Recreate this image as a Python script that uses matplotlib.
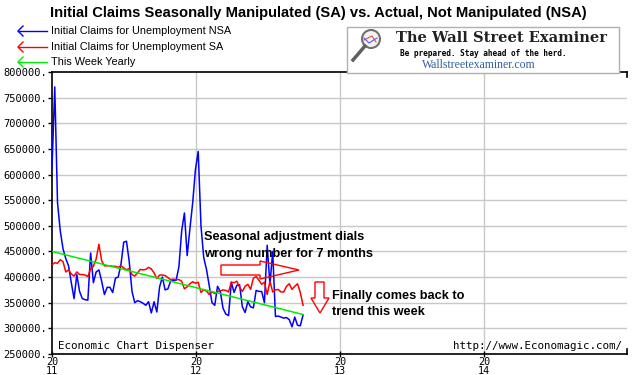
import matplotlib
matplotlib.use("Agg")
import matplotlib.pyplot as plt
import matplotlib.transforms as mtrans
from matplotlib.patches import Polygon, Rectangle, Circle
from matplotlib.lines import Line2D
import pandas as pd
import numpy as np

# ---------------- data ----------------
start_date = "2011-01-01"   # first weekly observation (week ending Saturday)
nsa = [613, 771, 545, 490, 455, 436, 422, 389, 358, 405,
       372, 358, 356, 355, 447, 389, 410, 414, 392, 366,
       380, 380, 370, 398, 400, 425, 468, 470, 430, 372,
       350, 354, 352, 349, 345, 352, 330, 352, 332, 381,
       400, 375, 377, 392, 393, 394, 420, 490, 525, 442,
       495, 545, 610, 645, 500, 438, 415, 383, 350, 345,
       382, 372, 339, 328, 325, 390, 370, 384, 385, 342,
       331, 352, 342, 340, 374, 372, 372, 350, 462, 385,
       450, 323, 324, 322, 320, 321, 317, 303, 322, 306,
       305, 326]
sa = [424, 428, 427, 434, 430, 410, 414, 406, 402, 410,
      405, 405, 404, 401, 416, 421, 435, 464, 432, 422,
      422, 422, 421, 421, 419, 422, 418, 414, 417, 405,
      402, 408, 415, 414, 415, 419, 416, 408, 397, 404,
      404, 403, 399, 395, 396, 395, 395, 392, 377, 381,
      387, 391, 388, 390, 370, 375, 373, 366, 371, 368,
      372, 373, 375, 374, 371, 390, 389, 392, 380, 372,
      382, 386, 376, 398, 401, 394, 386, 390, 366, 392,
      371, 375, 376, 371, 371, 382, 387, 376, 382, 387,
      370, 345]
nsa = [v * 1000 for v in nsa]
sa = [v * 1000 for v in sa]
trend_dates = ["2011-01-01", "2012-09-29"]
trend_vals = [450000, 327000]

series_labels = ["Initial Claims for Unemployment NSA",
                 "Initial Claims for Unemployment SA",
                 "This Week Yearly"]
series_colors = ["#0000ff", "#ff0000", "#00ee00"]
year_ticks = [2011, 2012, 2013, 2014]
title = "Initial Claims Seasonally Manipulated (SA) vs. Actual, Not Manipulated (NSA)"

dates = pd.date_range(start_date, periods=len(nsa), freq="7D")

# ---------------- figure ----------------
W, H = 640, 375
fig = plt.figure(figsize=(W / 100, H / 100), dpi=100)
fig.patch.set_facecolor("white")
# pixel transform (top-left origin)
PX = mtrans.Affine2D().scale(1 / W, -1 / H).translate(0, 1) + fig.transFigure

L, R, T, B = 52, 627, 72, 354
ax = fig.add_axes([L / W, 1 - B / H, (R - L) / W, (B - T) / H])
ax.set_facecolor("white")

mono = "DejaVu Sans Mono"

ax.plot(dates, nsa, color=series_colors[0], lw=1.1, zorder=3)
ax.plot(dates, sa, color=series_colors[1], lw=1.1, zorder=4)
ax.plot(pd.to_datetime(trend_dates), trend_vals, color=series_colors[2], lw=1.1, zorder=5)

ax.set_xlim(pd.Timestamp("2011-01-01"), pd.Timestamp("2014-12-30"))
ax.set_ylim(250000, 800000)
yt = np.arange(250000, 800001, 50000)
ax.set_yticks(yt)
ax.set_yticklabels([f"{v:.0f}." for v in yt], fontfamily=mono, fontsize=7.5)
xt = [pd.Timestamp(f"{y}-01-01") for y in year_ticks]
ax.set_xticks(xt)
ax.set_xticklabels([f"{str(y)[:2]}\n{str(y)[2:]}" for y in year_ticks],
                   fontfamily=mono, fontsize=7.3, linespacing=0.78)
ax.tick_params(axis="y", direction="out", length=2.8, width=1, pad=0.6)
ax.tick_params(axis="x", direction="inout", length=5, width=1, pad=0)
for y in yt[1:-1]:
    ax.axhline(y, color="#c8c8c8", lw=1, zorder=1)
for x in xt[1:]:
    ax.axvline(x, color="#c8c8c8", lw=1, zorder=1)
for s in ["left", "bottom", "top"]:
    ax.spines[s].set_linewidth(1.2)
    ax.spines[s].set_color("black")
ax.spines["right"].set_visible(False)
# little end marks on right side
fig.add_artist(Line2D([R, R], [T, T + 5], transform=PX, color="black", lw=1.2))
fig.add_artist(Line2D([R, R], [B, B - 5], transform=PX, color="black", lw=1.2))

ax.text(0.01, 0.012, "Economic Chart Dispenser", transform=ax.transAxes,
        fontfamily=mono, fontsize=7.8, ha="left", va="bottom")
ax.text(0.992, 0.012, "http://www.Economagic.com/", transform=ax.transAxes,
        fontfamily=mono, fontsize=7.8, ha="right", va="bottom")

# ---------------- title & legend ----------------
fig.text(50 / W, 1 - 13 / H, title, fontfamily="Liberation Sans", fontweight="bold",
         fontsize=10.6, ha="left", va="center")
for i, (lab, col) in enumerate(zip(series_labels, series_colors)):
    yy = [31, 47, 62][i]
    fig.add_artist(Line2D([18, 47], [yy, yy], transform=PX, color=col, lw=1))
    fig.add_artist(Line2D([23, 18, 23], [yy - 5, yy, yy + 5], transform=PX, color=col, lw=1))
    fig.text(51 / W, 1 - yy / H, lab, fontfamily="Liberation Sans", fontsize=7.8,
             ha="left", va="center")

# ---------------- logo box ----------------
fig.add_artist(Rectangle((347, 27), 272, 46, transform=PX, facecolor="white",
                         edgecolor="#b0b0b0", lw=1, zorder=10))
fig.add_artist(Circle((371, 39), 9, transform=PX, facecolor="#f4f4f4",
                      edgecolor="#707070", lw=1.5, zorder=11))
fig.add_artist(Line2D([364, 372, 376], [40, 36, 42], transform=PX, color="#ff4040", lw=0.8, zorder=12))
fig.add_artist(Line2D([364, 369, 377], [38, 43, 38], transform=PX, color="#4060ff", lw=0.8, zorder=12))
fig.add_artist(Line2D([365, 353], [46, 60], transform=PX, color="#606060", lw=2.5, zorder=11))
fig.text(502 / W, 1 - 38 / H, "The Wall Street Examiner", fontfamily="DejaVu Serif",
         fontweight="bold", fontsize=10.5, ha="center", va="center", zorder=12,
         color="#202020")
fig.text(483 / W, 1 - 53 / H, "Be prepared. Stay ahead of the herd.", fontfamily=mono,
         fontweight="bold", fontsize=5.6, ha="center", va="center", zorder=12)
fig.text(479 / W, 1 - 65 / H, "Wallstreetexaminer.com", fontfamily="Liberation Serif",
         fontsize=8.5, ha="center", va="center", color="#2f5fa0", zorder=12)

# ---------------- annotations ----------------
fig.text(204 / W, 1 - 237 / H, "Seasonal adjustment dials", fontfamily="Liberation Sans",
         fontweight="bold", fontsize=9.2, ha="left", va="center", zorder=20)
fig.text(204 / W, 1 - 254 / H, "wrong number for 7 months", fontfamily="Liberation Sans",
         fontweight="bold", fontsize=9.2, ha="left", va="center", zorder=20)
fig.text(332 / W, 1 - 296 / H, "Finally comes back to", fontfamily="Liberation Sans",
         fontweight="bold", fontsize=9.2, ha="left", va="center", zorder=20)
fig.text(332 / W, 1 - 312 / H, "trend this week", fontfamily="Liberation Sans",
         fontweight="bold", fontsize=9.2, ha="left", va="center", zorder=20)

right_arrow = [(221, 265), (260, 265), (260, 261), (299, 270), (260, 279), (260, 275), (221, 275)]
fig.add_artist(Polygon(right_arrow, closed=True, transform=PX, facecolor="none",
                       edgecolor="#ff0000", lw=1, zorder=20))
down_arrow = [(315, 282), (324, 282), (324, 298), (329, 298), (320, 313), (311, 298), (315, 298)]
fig.add_artist(Polygon(down_arrow, closed=True, transform=PX, facecolor="none",
                       edgecolor="#ff0000", lw=1, zorder=20))

fig.savefig("out.png", dpi=100, facecolor="white")
